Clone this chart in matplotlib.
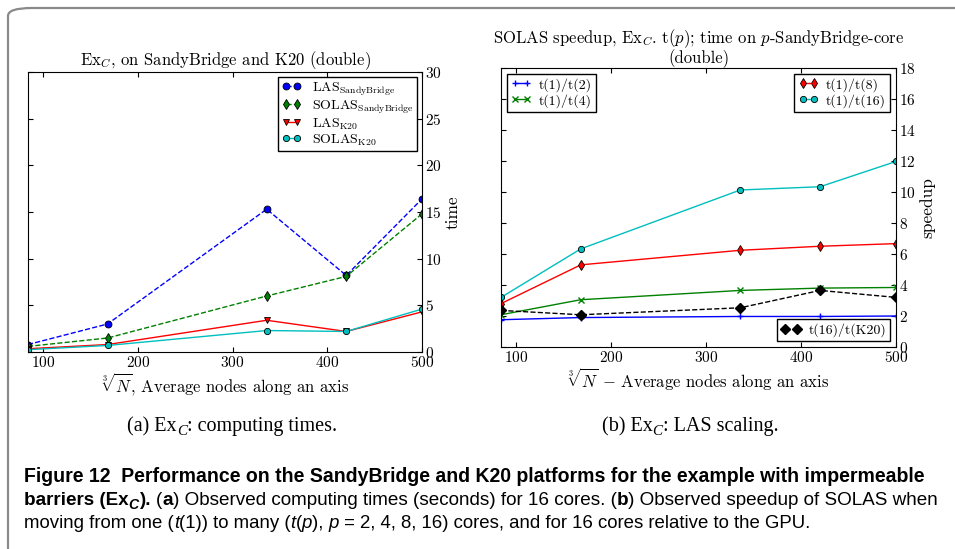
import numpy as np
import matplotlib
matplotlib.use('Agg')
import matplotlib.pyplot as plt
from matplotlib.patches import FancyBboxPatch

plt.rcParams['font.family'] = ['cmr10', 'DejaVu Serif']
plt.rcParams['mathtext.fontset'] = 'cm'
plt.rcParams['axes.formatter.use_mathtext'] = True
plt.rcParams['xtick.direction'] = 'in'
plt.rcParams['ytick.direction'] = 'in'
plt.rcParams['xtick.top'] = True
plt.rcParams['ytick.left'] = True
plt.rcParams['ytick.right'] = True
plt.rcParams['legend.fancybox'] = False
plt.rcParams['legend.framealpha'] = 1.0
plt.rcParams['legend.edgecolor'] = 'black'

# 数据
nodes = [84, 168, 336, 420, 500]

# (a) 计算时间
las_sb = [0.8, 3.0, 15.3, 8.2, 16.4]
solas_sb = [0.6, 1.5, 6.0, 8.1, 14.8]
las_k20 = [0.35, 0.8, 3.4, 2.2, 4.3]
solas_k20 = [0.25, 0.7, 2.3, 2.2, 4.6]

# (b) 加速比
sp_2 = [1.76, 1.9, 1.97, 1.97, 2.0]
sp_4 = [2.08, 3.05, 3.65, 3.8, 3.84]
sp_8 = [2.8, 5.3, 6.24, 6.5, 6.67]
sp_16 = [3.2, 6.33, 10.13, 10.34, 11.97]
sp_k20 = [2.36, 2.08, 2.53, 3.65, 3.2]

fig = plt.figure(figsize=(9.55, 5.49), dpi=100)

# 外框
frame = FancyBboxPatch((8 / 955, -0.2), 1.2, (549 - 8) / 549 + 0.2,
                       boxstyle='round,pad=0,rounding_size=0.025',
                       transform=fig.transFigure, fill=False,
                       edgecolor='#8a8a8a', linewidth=1.6, mutation_aspect=549 / 955)
fig.patches.append(frame)

# ---- 左图 ----
ax1 = fig.add_axes([28 / 955, (549 - 352) / 549, 394 / 955, 280 / 549])
ax1.plot(nodes, las_sb, 'b--', marker='o', ms=5, mec='k', mew=0.6, lw=1, label=r'LAS$_{\rm SandyBridge}$')
ax1.plot(nodes, solas_sb, 'g--', marker='d', ms=5, mec='k', mew=0.6, lw=1, label=r'SOLAS$_{\rm SandyBridge}$')
ax1.plot(nodes, las_k20, 'r-', marker='v', ms=5, mec='k', mew=0.6, lw=1, label=r'LAS$_{\rm K20}$')
ax1.plot(nodes, solas_k20, 'c-', marker='o', ms=4.5, mec='k', mew=0.6, lw=1, label=r'SOLAS$_{\rm K20}$')
ax1.set_xlim(84, 500)
ax1.set_ylim(0, 30)
ax1.set_xticks([100, 200, 300, 400, 500])
ax1.set_yticks(range(0, 31, 5))
ax1.yaxis.set_label_position('right')
ax1.yaxis.tick_right()
ax1.tick_params(axis='y', left=True, labelleft=False, labelright=True)
ax1.tick_params(labelsize=11, pad=2)
ax1.set_ylabel('time', fontsize=12.5, labelpad=3)
ax1.set_xlabel(r'$\sqrt[3]{N}$, Average nodes along an axis', fontsize=12, labelpad=1)
ax1.set_title(r'Ex$_C$, on SandyBridge and K20 (double)', fontsize=12, pad=4)
ax1.legend(loc='upper right', fontsize=10, handlelength=1.4, numpoints=2,
           borderaxespad=0.35, labelspacing=0.05, borderpad=0.25, handletextpad=0.8)

# ---- 右图 ----
ax2 = fig.add_axes([501 / 955, (549 - 347) / 549, 395 / 955, 279 / 549])
l2, = ax2.plot(nodes, sp_2, 'b-', marker='+', ms=5, lw=1, label='t(1)/t(2)')
l4, = ax2.plot(nodes, sp_4, 'g-', marker='x', ms=4, lw=1, label='t(1)/t(4)')
l8, = ax2.plot(nodes, sp_8, 'r-', marker='d', ms=5, mec='k', mew=0.6, lw=1, label='t(1)/t(8)')
l16, = ax2.plot(nodes, sp_16, 'c-', marker='o', ms=4.5, mec='k', mew=0.6, lw=1, label='t(1)/t(16)')
lk, = ax2.plot(nodes, sp_k20, 'k--', marker='D', ms=5, lw=1, label='t(16)/t(K20)')
ax2.set_xlim(84, 500)
ax2.set_ylim(0, 18)
ax2.set_xticks([100, 200, 300, 400, 500])
ax2.set_yticks(range(0, 19, 2))
ax2.yaxis.set_label_position('right')
ax2.yaxis.tick_right()
ax2.tick_params(axis='y', left=True, labelleft=False, labelright=True)
ax2.tick_params(labelsize=11, pad=2)
ax2.set_ylabel('speedup', fontsize=12.5, labelpad=3)
ax2.set_xlabel(r'$\sqrt[3]{N}$ $-$ Average nodes along an axis', fontsize=12, labelpad=1)
ax2.set_title('SOLAS speedup, Ex$_C$. t($p$); time on $p$-SandyBridge-core\n(double)',
              fontsize=12, pad=3, linespacing=0.95)
leg_kw = dict(fontsize=10, handlelength=1.45, numpoints=2, borderaxespad=0.4,
              labelspacing=0.15, borderpad=0.3, handletextpad=0.55)
lg1 = ax2.legend(handles=[l2, l4], loc='upper left', **leg_kw)
ax2.add_artist(lg1)
lg2 = ax2.legend(handles=[l8, l16], loc='upper right', **leg_kw)
ax2.add_artist(lg2)
ax2.legend(handles=[lk], loc='lower right', **leg_kw)

# ---- 图注 ----
cap_font = ['Liberation Sans']
serif_font = ['Liberation Serif']
renderer = fig.canvas.get_renderer()


def draw_segments(x0, y0, segments, size, family, ha_center=False, width=None):
    # 逐段绘制，依次拼接；给定 width 时按宽度缩放字号
    texts = []
    for txt, weight, style, sub in segments:
        t = fig.text(0, 0, txt, fontsize=size * (0.75 if sub else 1), fontweight=weight,
                     fontstyle=style, family=family, va='baseline', ha='left')
        texts.append((t, sub))
    if width is not None:
        total = sum(t.get_window_extent(renderer).width for t, _ in texts)
        size = size * width / total
        for t, sub in texts:
            t.set_fontsize(size * (0.75 if sub else 1))
    x = x0
    for t, sub in texts:
        dy = -0.3 * size if sub else 0
        t.set_position((x / 955, 1 - (y0 - dy) / 549))
        x += t.get_window_extent(renderer).width
    if ha_center:
        total = x - x0
        for t, _ in texts:
            t.set_x(t.get_position()[0] - total / 2 / 955)
    return x


draw_segments(232, 431, [('(a) Ex', 'normal', 'normal', False), ('C', 'normal', 'italic', True),
                         (': computing times.', 'normal', 'normal', False)], 14.5, serif_font, True)
draw_segments(690, 431, [('(b) Ex', 'normal', 'normal', False), ('C', 'normal', 'italic', True),
                         (': LAS scaling.', 'normal', 'normal', False)], 14.5, serif_font, True)

cap_size = 14
draw_segments(24, 482, [('Figure 12  Performance on the SandyBridge and K20 platforms for the example with impermeable',
                         'bold', 'normal', False)], cap_size, cap_font, width=904)
draw_segments(24, 505, [('barriers (Ex', 'bold', 'normal', False), ('C', 'bold', 'italic', True),
                        ('). ', 'bold', 'normal', False), ('(', 'normal', 'normal', False),
                        ('a', 'bold', 'normal', False),
                        (') Observed computing times (seconds) for 16 cores. (', 'normal', 'normal', False),
                        ('b', 'bold', 'normal', False),
                        (') Observed speedup of SOLAS when', 'normal', 'normal', False)],
              cap_size, cap_font, width=921)
draw_segments(24, 528, [('moving from one (', 'normal', 'normal', False), ('t', 'normal', 'italic', False),
                        ('(1)) to many (', 'normal', 'normal', False), ('t', 'normal', 'italic', False),
                        ('(', 'normal', 'normal', False), ('p', 'normal', 'italic', False),
                        ('), ', 'normal', 'normal', False), ('p', 'normal', 'italic', False),
                        (' = 2, 4, 8, 16) cores, and for 16 cores relative to the GPU.', 'normal', 'normal', False)],
              cap_size, cap_font, width=791)

fig.savefig('out.png', dpi=100)
